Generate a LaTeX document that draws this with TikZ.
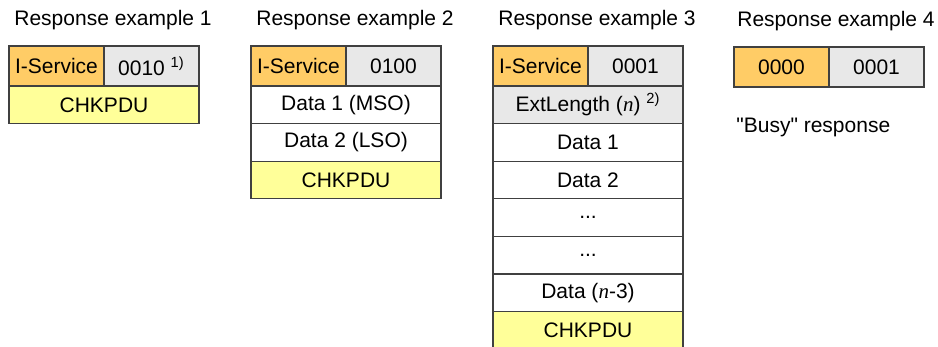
\documentclass[tikz,border=0pt]{standalone}
\usepackage{fontspec}
\setmainfont{Liberation Sans}[Ligatures=TeXOff]
\newfontfamily\timesfont{Liberation Serif}
\usetikzlibrary{positioning}
\definecolor{svcorange}{HTML}{FFCC66}
\definecolor{codegray}{HTML}{E8E8E8}
\definecolor{chkyellow}{HTML}{FFFF99}
\definecolor{edgegray}{HTML}{404040}
\newcommand{\var}[1]{{\timesfont\itshape #1}}

\begin{document}
\begin{tikzpicture}[
		font=\fontsize{10.5}{12.6}\selectfont,
		cell/.style={draw=edgegray, line width=0.6pt, inner sep=0pt, outer sep=0pt, minimum height=18.8pt, minimum width=95pt, fill=white},
		half/.style={cell, minimum width=47.5pt, minimum height=20pt},
		svc/.style={half, fill=svcorange},
		code/.style={half, fill=codegray},
		ext/.style={cell, fill=codegray},
		chk/.style={cell, fill=chkyellow},
		title/.style={inner sep=0pt}
		]
		\useasboundingbox (0,0) rectangle (469pt,-173.5pt);
		
		% RESPONSE EXAMPLE 1
		\node[svc, anchor=north west] (svcA) at (4.5pt,-23pt) {I-Service};
		\node[code, right=0pt of svcA] (codeA) {0010 \textsuperscript{1)}};
		\node[chk, below right=0pt of svcA.south west] (chkA) {CHKPDU};
		\node[title, above right=10pt and 2.5pt of svcA.north west, anchor=base west] (titleA) {Response example 1};
		
		% RESPONSE EXAMPLE 2
		\node[svc, anchor=north west] (svcB) at (125.5pt,-23pt) {I-Service};
		\node[code, right=0pt of svcB] (codeB) {0100};
		\node[cell, below right=0pt of svcB.south west] (msoB) {Data 1 (MSO)};
		\node[cell, below=0pt of msoB] (lsoB) {Data 2 (LSO)};
		\node[chk, below=0pt of lsoB] (chkB) {CHKPDU};
		\node[title, above right=10pt and 2.5pt of svcB.north west, anchor=base west] (titleB) {Response example 2};
		
		% RESPONSE EXAMPLE 3
		\node[svc, anchor=north west] (svcC) at (246.5pt,-23pt) {I-Service};
		\node[code, right=0pt of svcC] (codeC) {0001};
		\node[ext, below right=0pt of svcC.south west] (extC) {ExtLength (\var{n}) \textsuperscript{2)}};
		\node[cell, below=0pt of extC] (dataCa) {Data 1};
		\node[cell, below=0pt of dataCa] (dataCb) {Data 2};
		\node[cell, below=0pt of dataCb] (dotsCa) {...};
		\node[cell, below=0pt of dotsCa] (dotsCb) {...};
		\node[cell, below=0pt of dotsCb] (dataCn) {Data (\var{n}-3)};
		\node[chk, below=0pt of dataCn] (chkC) {CHKPDU};
		\node[title, above right=10pt and 2.5pt of svcC.north west, anchor=base west] (titleC) {Response example 3};
		
		% RESPONSE EXAMPLE 4
		\node[svc, anchor=north west] (svcD) at (367pt,-23.5pt) {0000};
		\node[code, right=0pt of svcD] (codeD) {0001};
		\node[title, above right=10pt and 1.5pt of svcD.north west, anchor=base west] (titleD) {Response example 4};
		\node[title, below right=23pt and 1pt of svcD.south west, anchor=base west] (busyD) {"Busy" response};
		
	\end{tikzpicture}
\end{document}
